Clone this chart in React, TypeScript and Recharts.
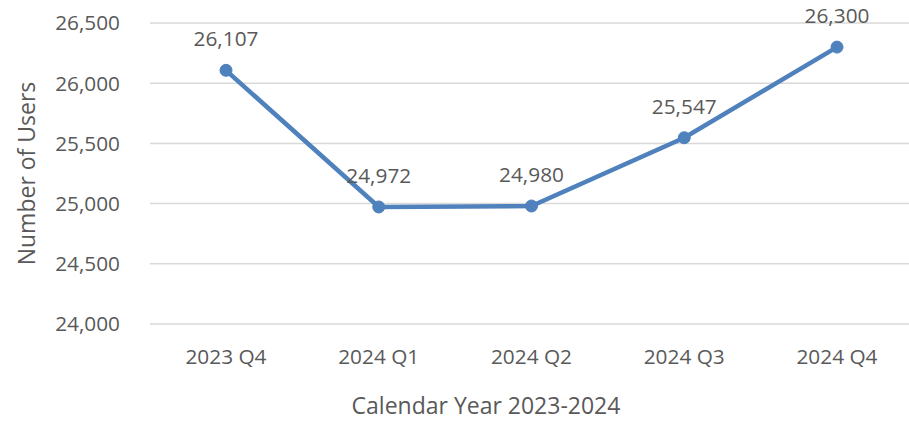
import React from 'react';
import { LineChart, Line, XAxis, YAxis, CartesianGrid, LabelList, Label } from 'recharts';

const quarters = ['2023 Q4', '2024 Q1', '2024 Q2', '2024 Q3', '2024 Q4'];
const users = [26107, 24972, 24980, 25547, 26300];
const yTicks = [24000, 24500, 25000, 25500, 26000, 26500];

const data = quarters.map((q, i) => ({ quarter: q, users: users[i] }));

const FONT = '"Open Sans", Lato, sans-serif';
const TEXT = '#595959';
const LINE = '#4f81bd';
const TICK_FS = 20.8;
const TITLE_FS = 23;

const fmt = (v: number) => v.toLocaleString('en-US');

export default function App() {
  return (
    <div style={{ position: 'absolute', left: 0, top: 0, width: 909, height: 421, overflow: 'hidden', background: '#fff' }}>
      <LineChart width={914} height={421} data={data} margin={{ top: 23, right: 0, bottom: 0, left: 0 }}>
        <CartesianGrid vertical={false} stroke="#d9d9d9" strokeWidth={1.5} />
        <XAxis
          dataKey="quarter"
          height={97}
          padding={{ left: 76, right: 77 }}
          axisLine={false}
          tickLine={false}
          tickMargin={19}
          tick={{ fill: TEXT, fontSize: TICK_FS, fontFamily: FONT }}
        >
          <Label
            content={(p: any) => {
              const vb = p.viewBox;
              return (
                <text x={vb.x + vb.width / 2 - 46} y={vb.y + 90} textAnchor="middle" fill={TEXT} fontSize={TITLE_FS} fontFamily={FONT}>
                  Calendar Year 2023-2024
                </text>
              );
            }}
          />
        </XAxis>
        <YAxis
          width={150}
          domain={[24000, 26500]}
          ticks={yTicks}
          axisLine={false}
          tickLine={false}
          tickMargin={24}
          tickFormatter={fmt}
          tick={{ fill: TEXT, fontSize: TICK_FS, fontFamily: FONT }}
        >
          <Label
            content={(p: any) => {
              const vb = p.viewBox;
              const x = vb.x + 26;
              const y = vb.y + vb.height / 2;
              return (
                <text x={x} y={y} transform={`rotate(-90, ${x}, ${y})`} textAnchor="middle" dominantBaseline="central" fill={TEXT} fontSize={TITLE_FS} fontFamily={FONT}>
                  Number of Users
                </text>
              );
            }}
          />
        </YAxis>
        <Line
          type="linear"
          dataKey="users"
          stroke={LINE}
          strokeWidth={4.5}
          dot={{ r: 6, fill: LINE, stroke: LINE, strokeWidth: 1 }}
          activeDot={false}
          isAnimationActive={false}
        >
          <LabelList dataKey="users" position="top" offset={24} formatter={(v: any) => fmt(Number(v))} fill={TEXT} fontSize={TICK_FS} fontFamily={FONT} />
        </Line>
      </LineChart>
    </div>
  );
}
